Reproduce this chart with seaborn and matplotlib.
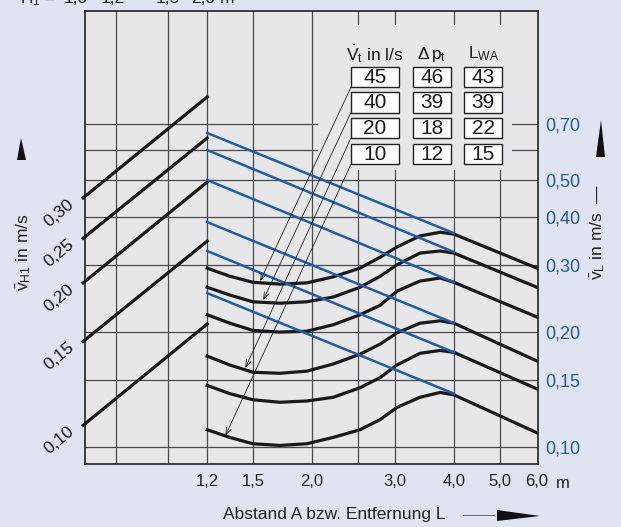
import numpy as np
import pandas as pd
import matplotlib
matplotlib.use("Agg")
import matplotlib.pyplot as plt
import seaborn as sns
from matplotlib.patches import Rectangle, Polygon
from matplotlib.lines import Line2D

# ---------------- data ----------------
L_pts = [1.2, 1.34, 1.5, 1.71, 1.95, 2.22, 2.53, 2.79, 3.03, 3.39, 3.74, 4.0, 6.0]
curve1_v = [0.294, 0.280, 0.270, 0.267, 0.269, 0.279, 0.294, 0.314, 0.334, 0.357, 0.365, 0.361, 0.294]
curve2_v = [0.262, 0.250, 0.240, 0.238, 0.240, 0.247, 0.262, 0.280, 0.300, 0.322, 0.326, 0.322, 0.262]
curve3_v = [0.222, 0.211, 0.202, 0.200, 0.201, 0.209, 0.222, 0.235, 0.256, 0.272, 0.277, 0.270, 0.219]
curve4_v = [0.173, 0.164, 0.157, 0.156, 0.158, 0.165, 0.175, 0.186, 0.199, 0.211, 0.214, 0.211, 0.168]
curve5_v = [0.145, 0.138, 0.133, 0.131, 0.132, 0.135, 0.143, 0.152, 0.164, 0.176, 0.179, 0.177, 0.142]
curve6_v = [0.111, 0.106, 0.102, 0.101, 0.102, 0.106, 0.111, 0.118, 0.127, 0.135, 0.139, 0.137, 0.109]

blue_L = [1.2, 4.0]
blue_start_v = [0.664, 0.599, 0.500, 0.388, 0.326, 0.253]
blue_end_v = [0.363, 0.324, 0.270, 0.211, 0.177, 0.138]

h1_L = [0.655, 1.2]
h1_labels = ["0,30", "0,25", "0,20", "0,15", "0,10"]
h1_start_v = [0.449, 0.352, 0.269, 0.189, 0.114]
h1_end_v = [0.825, 0.644, 0.494, 0.346, 0.210]

vt_vals = [45, 40, 20, 10]
dp_vals = [46, 39, 18, 12]
lwa_vals = [43, 39, 22, 15]
leader_L = [1.554, 1.577, 1.445, 1.311]
leader_v = [0.272, 0.2425, 0.161, 0.107]

x_ticks = [1.2, 1.5, 2.0, 3.0, 4.0, 5.0, 6.0]
x_ticklabels = ["1,2", "1,5", "2,0", "3,0", "4,0", "5,0", "6,0"]
y_ticks = [0.10, 0.15, 0.20, 0.30, 0.40, 0.50, 0.70]
y_ticklabels = ["0,10", "0,15", "0,20", "0,30", "0,40", "0,50", "0,70"]
grid_x = [0.77, 0.99, 1.2, 1.5, 2.0, 2.5, 3.0, 4.0, 5.0]
grid_y = [0.10, 0.15, 0.20, 0.30, 0.40, 0.50, 0.60, 0.70]
h1_top_labels = ["1,0", "1,2", "1,5", "2,0"]

# ---------------- style ----------------
plt.rcParams['font.family'] = ['Liberation Sans', 'DejaVu Sans']
plt.rcParams['mathtext.fontset'] = 'custom'
plt.rcParams['mathtext.rm'] = 'Liberation Sans'
plt.rcParams['mathtext.it'] = 'Liberation Sans:italic'
plt.rcParams['mathtext.bf'] = 'Liberation Sans:bold'

FIG_BG = "#dfe3f2"
AX_BG = "#e7e7e9"
BLUE = "#1f5dab"
BLACK = "#1a1a1a"
GRID = "#4a4a4a"

W, H = 621, 527
fig = plt.figure(figsize=(W / 100, H / 100), dpi=100, facecolor=FIG_BG)
ax = fig.add_axes([85 / W, 1 - 464 / H, 453 / W, 453 / H])
ax.set_facecolor(AX_BG)
ax.set_xscale('log')
ax.set_yscale('log')
ax.set_xlim(0.661, 6.03)
ax.set_ylim(0.0903, 1.385)

def F(px, py):
    return (px / W, 1 - py / H)

# grid
for gx in grid_x:
    ax.axvline(gx, color=GRID, lw=0.9, zorder=1)
for gy in grid_y:
    ax.axhline(gy, color=GRID, lw=0.9, zorder=1)

# mask around the table
ax.add_patch(Rectangle((2.06, 0.531), 5.31 - 2.06, 1.27 - 0.531,
                       facecolor=AX_BG, edgecolor='none', zorder=1.5))

# curves
curves = [curve1_v, curve2_v, curve3_v, curve4_v, curve5_v, curve6_v]
df_c = pd.DataFrame({
    'L': np.tile(L_pts, len(curves)),
    'v': np.concatenate(curves),
    'curve': np.repeat(np.arange(len(curves)), len(L_pts)),
})
sns.lineplot(data=df_c, x='L', y='v', units='curve', estimator=None, sort=False,
             color=BLACK, linewidth=2.3, legend=False, ax=ax, zorder=3)

df_b = pd.DataFrame({
    'L': np.tile(blue_L, len(blue_start_v)),
    'v': np.ravel(np.column_stack([blue_start_v, blue_end_v])),
    'line': np.repeat(np.arange(len(blue_start_v)), 2),
})
sns.lineplot(data=df_b, x='L', y='v', units='line', estimator=None, sort=False,
             color=BLUE, linewidth=1.8, legend=False, ax=ax, zorder=4)

df_h = pd.DataFrame({
    'L': np.tile(h1_L, len(h1_start_v)),
    'v': np.ravel(np.column_stack([h1_start_v, h1_end_v])),
    'line': np.repeat(np.arange(len(h1_start_v)), 2),
})
sns.lineplot(data=df_h, x='L', y='v', units='line', estimator=None, sort=False,
             color=BLACK, linewidth=2.3, legend=False, ax=ax, zorder=3)
for ln in ax.lines[-len(h1_start_v):]:
    ln.set_clip_on(False)

for lab, v0 in zip(h1_labels, h1_start_v):
    ax.annotate(lab, xy=(h1_L[0], v0), xytext=(-24, -15), textcoords='offset pixels',
                ha='center', va='center', rotation=40, fontsize=12.5, color=BLACK,
                annotation_clip=False)

# table
row_cy = [0.854, 0.798, 0.742, 0.684]
box_h = 0.045
cols = [(0.587, 0.693, vt_vals), (0.724, 0.808, dp_vals), (0.837, 0.921, lwa_vals)]
for x0, x1, vals in cols:
    for cy, val in zip(row_cy, vals):
        ax.add_patch(Rectangle((x0, cy - box_h / 2), x1 - x0, box_h, transform=ax.transAxes,
                               facecolor='white', edgecolor='#222', lw=1.0, zorder=5))
        ax.text((x0 + x1) / 2, cy - 0.001, str(val), transform=ax.transAxes, ha='center',
                va='center', fontsize=15, color=BLACK, zorder=6)
ax.text(0.640, 0.905, r"$\dot{\mathrm{V}}_\mathrm{t}$ in l/s", transform=ax.transAxes,
        ha='center', va='center', fontsize=12.5, color=BLACK, zorder=6)
ax.text(0.766, 0.905, r"$\Delta\,\mathrm{p}_\mathrm{t}$", transform=ax.transAxes,
        ha='center', va='center', fontsize=12.5, color=BLACK, zorder=6)
ax.text(0.879, 0.905, r"L$_\mathrm{WA}$", transform=ax.transAxes,
        ha='center', va='center', fontsize=12.5, color=BLACK, zorder=6)

# leader lines
for cy, lx, lv in zip(row_cy, leader_L, leader_v):
    ax.annotate('', xy=(lx, lv), xycoords='data', xytext=(0.587, cy - box_h / 2),
                textcoords='axes fraction',
                arrowprops=dict(arrowstyle='->,head_length=0.5,head_width=0.18',
                                lw=0.6, color='#222', shrinkA=0, shrinkB=0), zorder=4)

# axes ticks
ax.xaxis.set_minor_locator(matplotlib.ticker.NullLocator())
ax.yaxis.set_minor_locator(matplotlib.ticker.NullLocator())
ax.set_xticks(x_ticks)
ax.set_xticklabels(x_ticklabels, fontsize=12, color='#222')
ax.yaxis.tick_right()
ax.set_yticks(y_ticks)
ax.set_yticklabels(y_ticklabels, fontsize=13, color=BLUE)
ax.tick_params(axis='x', length=0, pad=7)
ax.tick_params(axis='y', length=0, pad=5)
ax.set_xlabel('')
ax.set_ylabel('')
for s in ax.spines.values():
    s.set_color('#222')
    s.set_linewidth(1.2)

# outer texts
fig.text(*F(563, 483), "m", ha='center', va='center', fontsize=12, color='#222')
fig.text(*F(334, 515), "Abstand A bzw. Entfernung L", ha='center', va='center',
         fontsize=12.5, color='#222')
fig.text(*F(24, 252), r"$\bar{\mathrm{v}}_\mathrm{H1}$ in m/s", rotation=90,
         ha='center', va='center', fontsize=12.5, color='#222')
fig.text(*F(598, 232), r"$\bar{\mathrm{v}}_\mathrm{L}$ in m/s  —", rotation=90,
         ha='center', va='center', fontsize=12.5, color='#222')

top_y = 1 - 3 / H
fig.text(20 / W, top_y, r"H$_1$ =", va='baseline', ha='left', fontsize=12.5, color='#222')
for lab, cx in zip(h1_top_labels, [76, 113, 168, 203]):
    fig.text(cx / W, top_y, lab, va='baseline', ha='center', fontsize=12.5, color='#222')
fig.text(227 / W, top_y, "m", va='baseline', ha='center', fontsize=12.5, color='#222')

# arrows (decorative)
fig.patches.append(Polygon([F(21, 138), F(17, 160), F(26, 160)], closed=True,
                           transform=fig.transFigure, facecolor='#111', edgecolor='none'))
fig.patches.append(Polygon([F(601, 120), F(596, 157), F(605, 157)], closed=True,
                           transform=fig.transFigure, facecolor='#111', edgecolor='none'))
fig.patches.append(Polygon([F(540, 516), F(497, 510), F(497, 521)], closed=True,
                           transform=fig.transFigure, facecolor='#111', edgecolor='none'))
fig.lines.append(Line2D([463 / W, 494 / W], [1 - 515 / H, 1 - 515 / H],
                        transform=fig.transFigure, color='#555', lw=0.6))

fig.savefig("out.png", dpi=100, facecolor=FIG_BG)
